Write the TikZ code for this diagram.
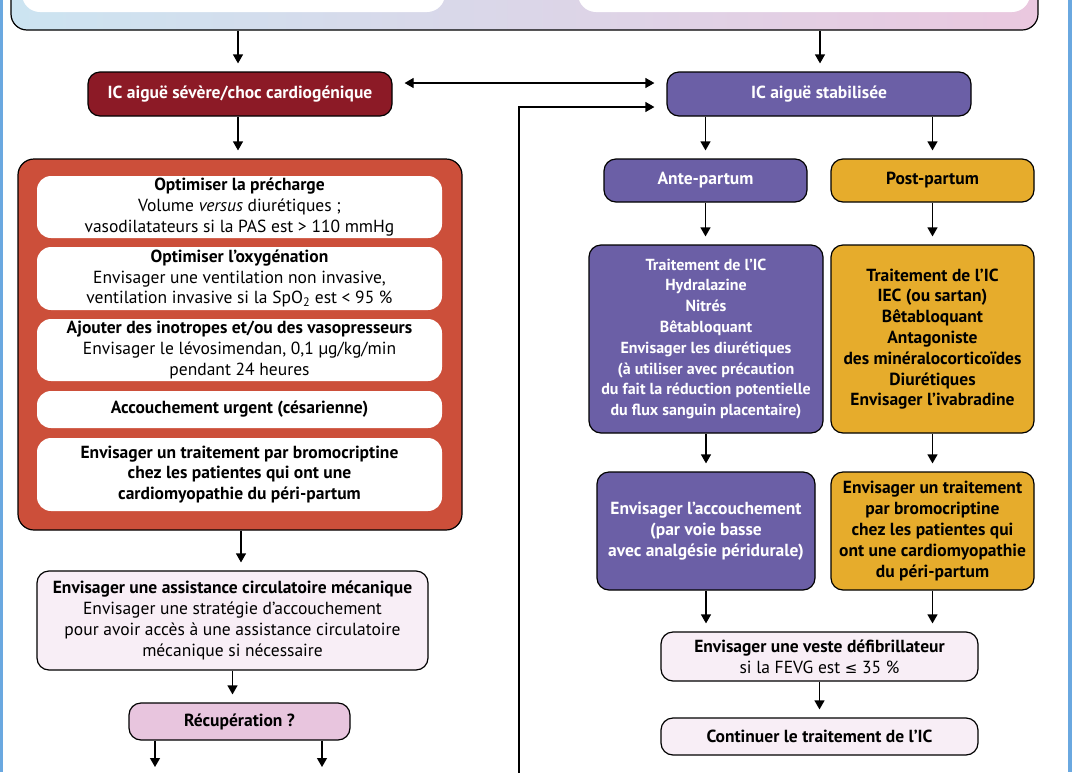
\documentclass[tikz,border=0pt]{standalone}
\usepackage{fontspec}
\setmainfont{PT Sans}
\newfontfamily\symfont{DejaVu Sans}
\usetikzlibrary{arrows.meta,calc}
\definecolor{sevred}{HTML}{8C1A26}
\definecolor{contred}{HTML}{CC4F3A}
\definecolor{purp}{HTML}{6B5FA6}
\definecolor{gold}{HTML}{E6AC2C}
\definecolor{lpink}{HTML}{F8EEF6}
\definecolor{rpink}{HTML}{E8C5DE}
\definecolor{sideblue}{HTML}{6AA8E0}
\definecolor{topL}{HTML}{CCE4F1}
\definecolor{topR}{HTML}{EAC8DF}
\newcommand\myfs{\fontsize{17.5}{20.8}\selectfont}
\newcommand\myfsn{\fontsize{16}{20.8}\selectfont}
\begin{document}
\begin{tikzpicture}[x=1pt,y=-1pt,
  box/.style={draw=black, line width=1.2pt, rounded corners=12pt, inner sep=0pt, align=center, font=\myfs},
  inbox/.style={fill=white, draw=none, rounded corners=14pt, inner sep=0pt, align=center, font=\myfs, minimum width=405pt},
  arr/.style={line width=1.2pt, -{Triangle[width=10pt,length=9pt]}, shorten >=8pt},
  darr/.style={line width=1.2pt, {Triangle[width=10pt,length=9pt]}-{Triangle[width=10pt,length=9pt]}, shorten >=12pt, shorten <=12pt},
]
\useasboundingbox (0,0) rectangle (1072,772);
\clip (0,0) rectangle (1072,772);
\fill[white] (0,0) rectangle (1072,772);
\fill[sideblue] (0,0) rectangle (3,772);
\fill[sideblue] (1068,0) rectangle (1072,772);

% top gradient box (cut off)
\node[draw=black, line width=1.2pt, rounded corners=16pt, left color=topL, right color=topR,
      minimum width=1027pt, minimum height=70pt, inner sep=0pt] (top) at (524.5,-5) {};
\node[fill=white, rounded corners=18pt, minimum width=423pt, minimum height=60pt, inner sep=0pt] (topl) at (233.5,-18) {};
\node[fill=white, rounded corners=18pt, minimum width=452pt, minimum height=60pt, inner sep=0pt] (topr) at (804,-18) {};

% second row
\node[box, fill=sevred, text=white, font=\myfs\bfseries, minimum width=304pt, minimum height=44pt] (sev) at (240,94) {IC aiguë sévère/choc cardiogénique};
\node[box, fill=purp, text=white, font=\myfs\bfseries, minimum width=304pt, minimum height=44pt] (stab) at (819,94) {IC aiguë stabilisée};

% left container
\node[box, fill=contred, rounded corners=16pt, minimum width=444pt, minimum height=371pt] (cont) at (240,344.5) {};
\node[inbox, minimum height=62pt] (b1) at (239.5,207) {\textbf{Optimiser la précharge}\\Volume \emph{versus} diurétiques ;\\vasodilatateurs si la PAS est > 110 mmHg};
\node[inbox, minimum height=63pt] (b2) at (239.5,278.5) {\textbf{Optimiser l’oxygénation}\\Envisager une ventilation non invasive,\\ventilation invasive si la SpO\textsubscript{2} est < 95 \%};
\node[inbox, minimum height=62pt] (b3) at (239.5,350) {\textbf{Ajouter des inotropes et/ou des vasopresseurs}\\Envisager le lévosimendan, 0,1 µg/kg/min\\pendant 24 heures};
\node[inbox, minimum height=37pt] (b4) at (239.5,409.5) {\textbf{Accouchement urgent (césarienne)}};
\node[inbox, minimum height=73pt, font=\myfs\bfseries] (b5) at (239.5,474.5) {Envisager un traitement par bromocriptine\\chez les patientes qui ont une\\cardiomyopathie du péri-partum};

\node[box, fill=lpink, minimum width=391pt, minimum height=99pt] (assist) at (232.5,620.5) {\textbf{Envisager une assistance circulatoire mécanique}\\Envisager une stratégie d’accouchement\\pour avoir accès à une assistance circulatoire\\mécanique si nécessaire};
\node[box, fill=rpink, font=\myfs\bfseries, minimum width=221pt, minimum height=37pt] (rec) at (239.5,721.5) {Récupération ?};
\coordinate (r1) at (155,767);
\coordinate (r2) at (322,767);

% right side
\node[box, fill=purp, text=white, font=\myfs\bfseries, minimum width=203pt, minimum height=43pt] (ante) at (705.5,180.5) {Ante-partum};
\node[box, fill=gold, font=\myfs\bfseries, minimum width=203pt, minimum height=43pt] (post) at (932.5,180.5) {Post-partum};
\node[box, fill=purp, text=white, font=\myfsn\bfseries, minimum width=234pt, minimum height=188pt] (pt) at (706,339) {Traitement de l’IC\\Hydralazine\\Nitrés\\Bêtabloquant\\Envisager les diurétiques\\(à utiliser avec précaution\\du fait la réduction potentielle\\du flux sanguin placentaire)};
\node[box, fill=gold, font=\myfs\bfseries, minimum width=203pt, minimum height=188pt] (gt) at (932.5,339) {Traitement de l’IC\\IEC (ou sartan)\\Bêtabloquant\\Antagoniste\\des minéralocorticoïdes\\Diurétiques\\Envisager l’ivabradine};
\node[box, fill=purp, text=white, font=\myfs\bfseries, minimum width=218pt, minimum height=118pt] (pa) at (706,531) {Envisager l’accouchement\\(par voie basse\\avec analgésie péridurale)};
\node[box, fill=gold, font=\myfs\bfseries, minimum width=203pt, minimum height=118pt] (ga) at (932.5,531) {Envisager un traitement\\par bromocriptine\\chez les patientes qui\\ont une cardiomyopathie\\du péri-partum};
\node[box, fill=lpink, minimum width=317pt, minimum height=49pt] (veste) at (819.5,656.5) {\textbf{Envisager une veste défibrillateur}\\si la FEVG est {\symfont\fontsize{15}{15}\selectfont ≤} 35 \%};
\node[box, fill=lpink, font=\myfs\bfseries, minimum width=317pt, minimum height=37pt] (cont2) at (819.5,736.5) {Continuer le traitement de l’IC};
\coordinate (ret) at (519,780);

% connectors
\draw[arr] ([xshift=-2pt]sev.north |- top.south) -- ([xshift=-2pt]sev.north);
\draw[arr] ([xshift=1pt]stab.north |- top.south) -- ([xshift=1pt]stab.north);
\draw[darr] ([yshift=11pt]sev.east) -- ([yshift=11pt]stab.west);
\draw[arr, shorten >=12pt] (ret) |- ([yshift=-13pt]stab.west);
\draw[arr] ([xshift=-2pt]sev.south) -- ([xshift=-2pt]sev.south |- cont.north);
\draw[arr] ([xshift=1pt]cont.south) -- ([xshift=1pt]cont.south |- assist.north);
\draw[arr] (assist.south) -- (assist.south |- rec.north);
\draw[arr, shorten >=0pt] (rec.south -| r1) -- (r1);
\draw[arr, shorten >=0pt] (rec.south -| r2) -- (r2);
\draw[arr] (ante.north |- stab.south) -- (ante.north);
\draw[arr] (post.north |- stab.south) -- (post.north);
\draw[arr] (ante.south) -- (ante.south |- pt.north);
\draw[arr] (post.south) -- (post.south |- gt.north);
\draw[arr] (pt.south) -- (pt.south |- pa.north);
\draw[arr] (gt.south) -- (gt.south |- ga.north);
\draw[arr] (pa.south) -- (pa.south |- veste.north);
\draw[arr] (ga.south) -- (ga.south |- veste.north);
\draw[arr] (veste.south) -- (veste.south |- cont2.north);
\end{tikzpicture}
\end{document}
